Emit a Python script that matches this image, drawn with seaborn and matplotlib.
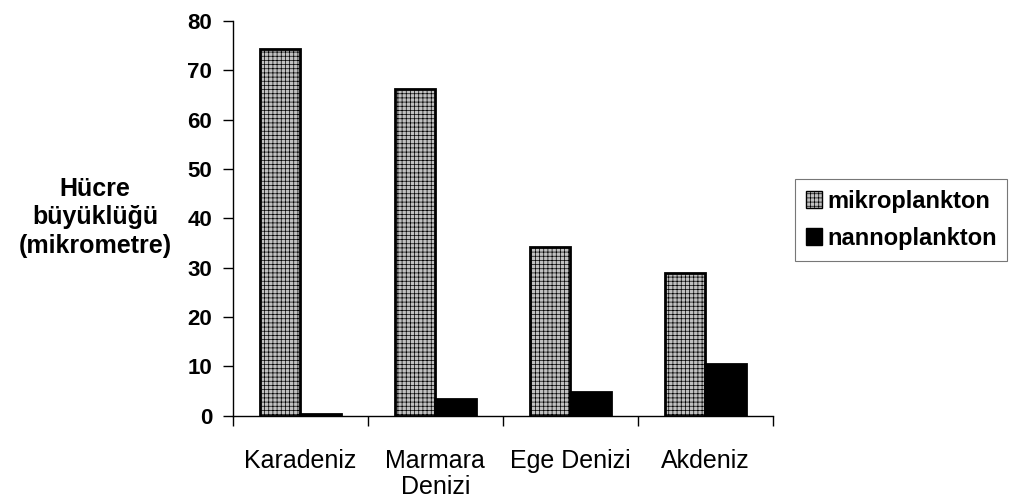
import matplotlib
matplotlib.use("Agg")
import matplotlib.pyplot as plt
import pandas as pd
import seaborn as sns
from matplotlib.patches import Patch

seas = ["Karadeniz", "Marmara\nDenizi", "Ege Denizi", "Akdeniz"]
series = ["mikroplankton", "nannoplankton"]
mikro = [74.3, 66.2, 34.2, 29.0]
nanno = [0.4, 3.4, 4.9, 10.5]
y_ticks = [0, 10, 20, 30, 40, 50, 60, 70, 80]


def main() -> None:
    sns.set_style("white")
    plt.rcParams["font.family"] = ["Liberation Sans", "DejaVu Sans"]
    plt.rcParams["hatch.linewidth"] = 0.5
    plt.rcParams["text.color"] = "black"
    plt.rcParams["xtick.color"] = "black"
    plt.rcParams["ytick.color"] = "black"

    df = pd.DataFrame({
        "deniz": seas * 2,
        "seri": [series[0]] * 4 + [series[1]] * 4,
        "boyut": mikro + nanno,
    })

    fig = plt.figure(figsize=(10.22, 5.01), dpi=100)
    ax = fig.add_axes([0.228, 0.170, 0.528, 0.788])
    sns.barplot(data=df, x="deniz", y="boyut", hue="seri", order=seas,
                hue_order=series, palette=["#c0c0c0", "#000000"],
                width=0.6, gap=0, saturation=1, edgecolor="black",
                linewidth=2, legend=False, ax=ax)

    for p in ax.patches[:4]:
        p.set_hatch("++++")

    ax.set_xlim(-0.5, 3.5)
    ax.set_ylim(0, 80)
    ax.set_yticks(y_ticks)
    ax.set_yticklabels([str(v) for v in y_ticks], fontsize=16, fontweight="bold")
    ax.set_xticks(range(4))
    ax.set_xticklabels(seas, fontsize=18, linespacing=1.1)
    ax.set_xticks([-0.5, 0.5, 1.5, 2.5, 3.5], minor=True)
    ax.tick_params(axis="x", which="major", bottom=False, length=0, pad=24)
    ax.tick_params(axis="x", which="minor", bottom=True, length=7, width=1,
                   direction="out")
    ax.tick_params(axis="y", left=True, length=7, width=1, direction="out", pad=8)
    for side in ["top", "right"]:
        ax.spines[side].set_visible(False)
    for side in ["left", "bottom"]:
        ax.spines[side].set_color("black")
        ax.spines[side].set_linewidth(1)

    ax.set_xlabel("")
    ax.set_ylabel("")
    fig.text(0.093, 0.566, "Hücre\nbüyüklüğü\n(mikrometre)", ha="center", va="center",
             fontsize=18, fontweight="bold", linespacing=1.25)

    handles = [
        Patch(facecolor="#c0c0c0", edgecolor="black", hatch="++++", linewidth=1),
        Patch(facecolor="black", edgecolor="black", linewidth=1),
    ]
    leg = fig.legend(handles, series, loc="center", bbox_to_anchor=(0.882, 0.561),
                     frameon=True, fancybox=False, edgecolor="#555555",
                     prop={"size": 17, "weight": "bold"}, handlelength=0.7,
                     handleheight=0.7, handletextpad=0.2, labelspacing=0.6,
                     borderpad=0.45, borderaxespad=0)
    leg.get_frame().set_linewidth(0.8)

    fig.savefig("out.png", dpi=100)
    plt.close(fig)


if __name__ == "__main__":
    main()
